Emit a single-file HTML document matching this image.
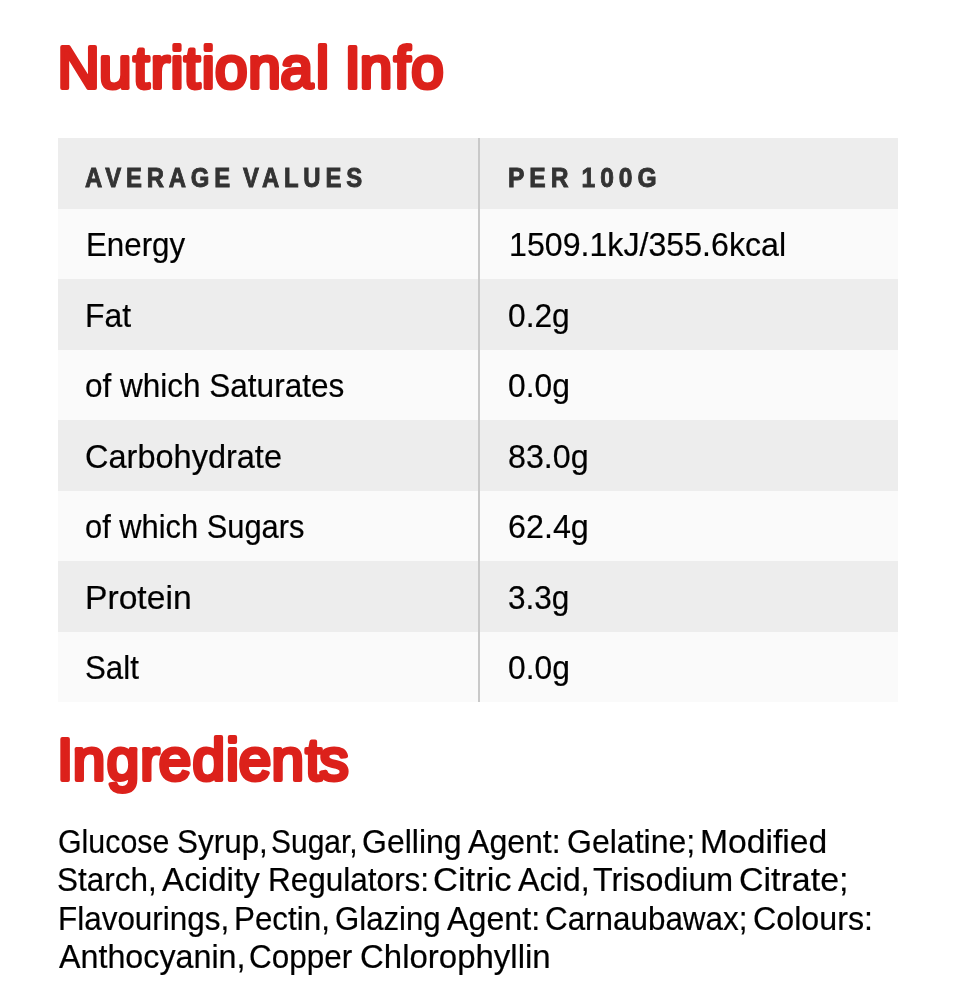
<!DOCTYPE html>
<html lang="en"><head><meta charset="utf-8"><title>Nutritional Info</title>
<style>
html,body{margin:0;padding:0;background:#fff}
body{width:954px;height:1002px;position:relative;overflow:hidden;font-family:"Liberation Sans",Arial,sans-serif;color:#000;font-size:32.5px;-webkit-text-stroke:0.2px #000}
.wrap{position:absolute;left:0;top:0;width:954px;height:1002px;will-change:transform}
h2{position:absolute;left:0;margin:0;width:954px;font-weight:700;color:#dc211b}
h2 svg{display:block;overflow:visible}
h2 text{font-family:"Liberation Sans",Arial,sans-serif;font-weight:400;fill:#dc211b;stroke:#dc211b;stroke-linejoin:round;stroke-linecap:round}
table{position:absolute;left:58px;top:138px;width:840px;border-collapse:collapse;table-layout:fixed}
td,th{height:70.5px;padding:0;text-align:left;font-weight:400;position:relative;white-space:nowrap;overflow:visible}
tr:nth-child(odd){background:#ededed} tr:nth-child(even){background:#fafafa}
td:first-child,th:first-child{width:420px;border-right:2px solid #c9c9c9}
td span,th span{position:absolute;top:0;line-height:70.5px;transform-origin:0 50%;display:block}
th span{font-size:27.3px;font-weight:700;letter-spacing:5.5px;color:#333;-webkit-text-stroke:0.9px #333;word-spacing:-4px}
.ing{position:absolute;left:0;top:0;margin:0;width:954px}
.ing .ln{position:absolute;left:0;width:954px;height:38px;line-height:38px;white-space:nowrap;display:block}
.ing .ln span{position:absolute;top:0;transform-origin:0 50%;display:block}
</style></head><body><div class="wrap">
<h2 style="top:20px"><svg width="954" height="90" viewBox="0 0 954 90"><text x="57.5 99.1 133.2 150.7 170.5 184.1 201.7 214.9 248.3 280.6 316.1 330.2 344.4 359.8 393.9 411.2" y="68.25" font-size="58.4" stroke-width="4.1">Nutritional Info</text></svg></h2>
<table>
<tr><th><span style="left:27.36px;top:4.75px;transform:scaleX(0.8748)">AVERAGE VALUES</span></th><th><span style="left:27.66px;top:4.75px;transform:scaleX(0.9000)">PER 100G</span></th></tr>
<tr><td><span style="left:27.71px;top:1.85px;transform:scaleX(0.9628)">Energy</span></td><td><span style="left:28.61px;top:1.85px;transform:scaleX(0.9894)">1509.1kJ/355.6kcal</span></td></tr>
<tr><td><span style="left:27.36px;top:1.85px;transform:scaleX(0.9830)">Fat</span></td><td><span style="left:27.96px;top:1.85px;transform:scaleX(0.9762)">0.2g</span></td></tr>
<tr><td><span style="left:27.18px;top:1.85px;transform:scaleX(0.9694)">of which Saturates</span></td><td><span style="left:27.95px;top:1.85px;transform:scaleX(0.9778)">0.0g</span></td></tr>
<tr><td><span style="left:26.91px;top:1.85px;transform:scaleX(1.0003)">Carbohydrate</span></td><td><span style="left:28.12px;top:1.85px;transform:scaleX(0.9908)">83.0g</span></td></tr>
<tr><td><span style="left:27.21px;top:1.85px;transform:scaleX(0.9488)">of which Sugars</span></td><td><span style="left:27.91px;top:1.85px;transform:scaleX(0.9935)">62.4g</span></td></tr>
<tr><td><span style="left:27.22px;top:1.85px;transform:scaleX(1.0352)">Protein</span></td><td><span style="left:28.29px;top:1.85px;transform:scaleX(0.9707)">3.3g</span></td></tr>
<tr><td><span style="left:26.96px;top:1.85px;transform:scaleX(0.9623)">Salt</span></td><td><span style="left:27.95px;top:1.85px;transform:scaleX(0.9778)">0.0g</span></td></tr>
</table>
<h2 style="top:715px"><svg width="954" height="90" viewBox="0 0 954 90"><text x="57.0 72.8 106.8 140.3 158.7 192.4 225.9 238.7 271.5 305.5 319.6" y="65.45" font-size="58.4" stroke-width="4.1">Ingredients</text></svg></h2>
<p class="ing">
<span class="ln" style="top:823px"><span style="left:57.84px;transform:scaleX(0.9339)">Glucose</span> <span style="left:176.76px;transform:scaleX(0.9672)">Syrup,</span> <span style="left:271.33px;transform:scaleX(0.9215)">Sugar,</span> <span style="left:362.26px;transform:scaleX(0.9841)">Gelling</span> <span style="left:468.14px;transform:scaleX(0.9863)">Agent:</span> <span style="left:566.76px;transform:scaleX(0.9851)">Gelatine;</span> <span style="left:699.62px;transform:scaleX(1.0364)">Modified</span> </span>
<span class="ln" style="top:861px"><span style="left:57.25px;transform:scaleX(0.9681)">Starch,</span> <span style="left:162.24px;transform:scaleX(1.0219)">Acidity</span> <span style="left:267.99px;transform:scaleX(0.9695)">Regulators:</span> <span style="left:433.11px;transform:scaleX(1.0622)">Citric</span> <span style="left:518.24px;transform:scaleX(0.9915)">Acid,</span> <span style="left:592.86px;transform:scaleX(0.9910)">Trisodium</span> <span style="left:738.84px;transform:scaleX(1.0458)">Citrate;</span> </span>
<span class="ln" style="top:900px"><span style="left:57.50px;transform:scaleX(0.9671)">Flavourings,</span> <span style="left:234.20px;transform:scaleX(0.9653)">Pectin,</span> <span style="left:335.20px;transform:scaleX(0.9592)">Glazing</span> <span style="left:446.94px;transform:scaleX(0.9907)">Agent:</span> <span style="left:545.37px;transform:scaleX(0.9657)">Carnaubawax;</span> <span style="left:752.73px;transform:scaleX(0.9913)">Colours:</span> </span>
<span class="ln" style="top:938px"><span style="left:58.54px;transform:scaleX(0.9925)">Anthocyanin,</span> <span style="left:248.96px;transform:scaleX(0.9677)">Copper</span> <span style="left:360.19px;transform:scaleX(1.0146)">Chlorophyllin</span> </span>
</p>
</div></body></html>
